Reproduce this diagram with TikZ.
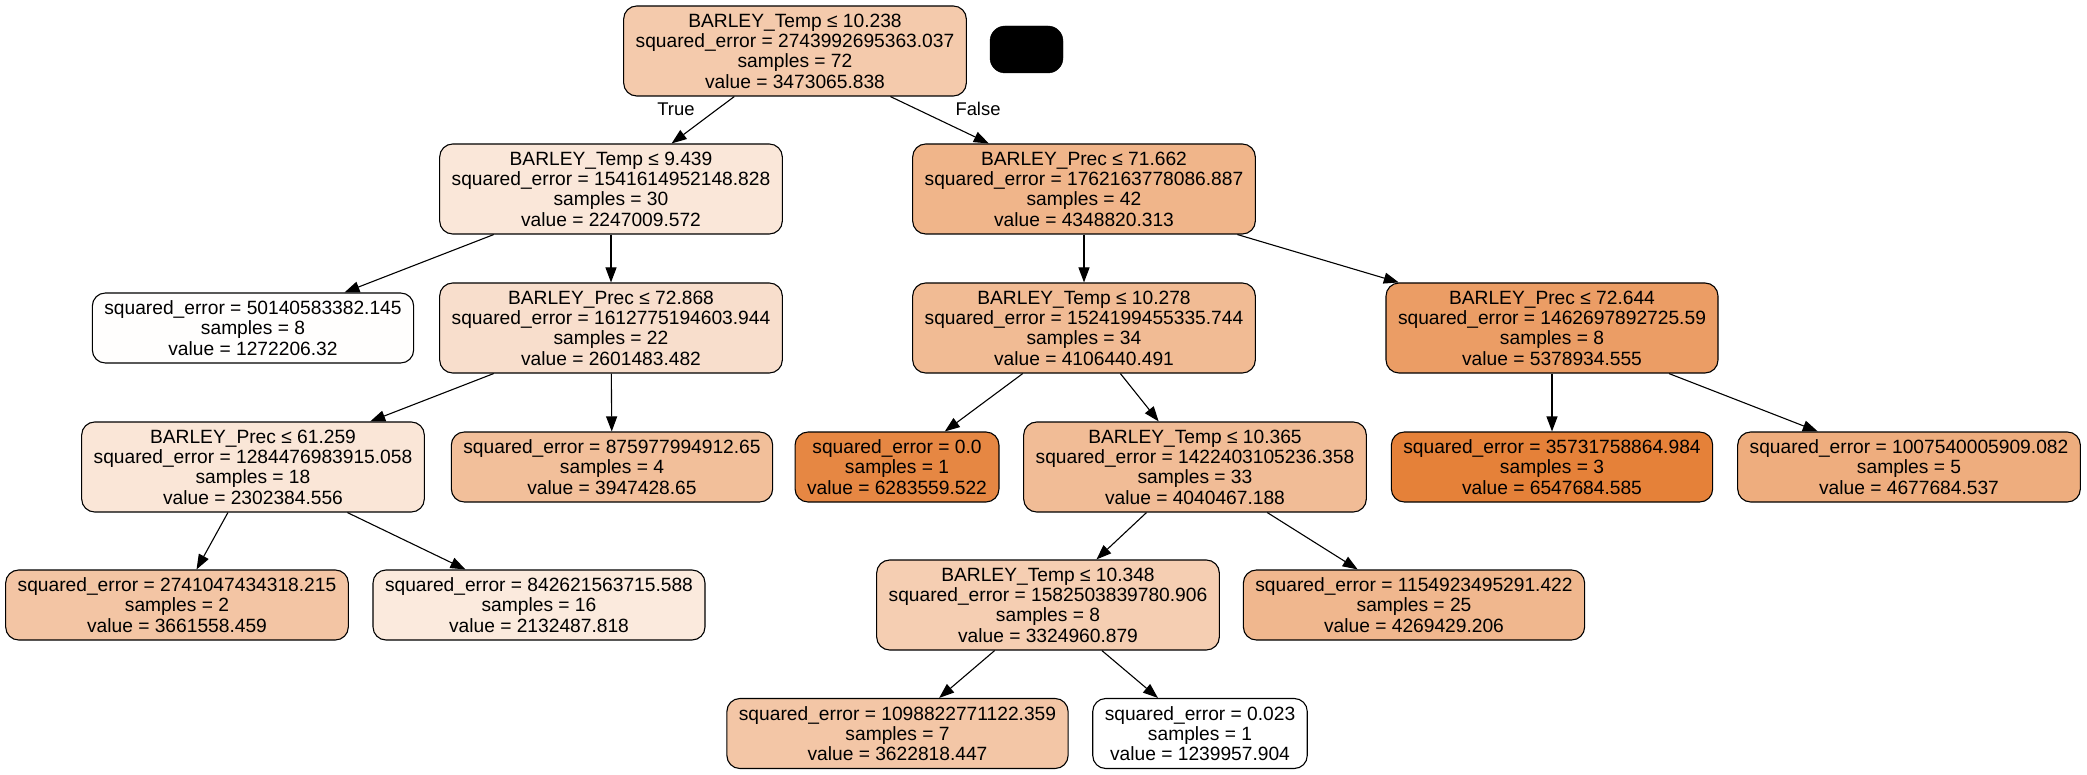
\documentclass[tikz,border=0pt]{standalone}
\usepackage{fontspec}
\setmainfont{Liberation Sans}
\usetikzlibrary{arrows.meta}
\definecolor{dtor}{RGB}{229,129,57}
\tikzset{
  tbox/.style={draw=black, line width=1.1pt, rounded corners=13pt, align=center,
    inner xsep=12pt, inner ysep=2pt, font=\fontsize{19.2}{20.3}\selectfont},
  split/.style={tbox, minimum height=90pt, fill=dtor!#1!white},
  leaf/.style={tbox, minimum height=70pt, fill=dtor!#1!white},
  edge/.style={line width=1.1pt, -{Triangle[length=15pt,width=11pt]}},
  elabel/.style={font=\fontsize{18.4}{20}\selectfont}
}
\begin{document}
\begin{tikzpicture}[x=1pt,y=-1pt]
\useasboundingbox (0,0) rectangle (2087,775);
\node[split=42] (root) at (795,51) {BARLEY\_Temp ≤ 10.238\\squared\_error = 2743992695363.037\\samples = 72\\value = 3473065.838};
\node[draw=black, fill=black, rounded corners=15pt, minimum width=73pt, minimum height=47pt, inner sep=0pt] (legend) at (1026.5,49.5) {};
\node[split=19] (A1) at (611,189) {BARLEY\_Temp ≤ 9.439\\squared\_error = 1541614952148.828\\samples = 30\\value = 2247009.572};
\node[split=59] (B1) at (1084,189) {BARLEY\_Prec ≤ 71.662\\squared\_error = 1762163778086.887\\samples = 42\\value = 4348820.313};
\node[leaf=1] (L1) at (253,328) {squared\_error = 50140583382.145\\samples = 8\\value = 1272206.32};
\node[split=26] (A2) at (611,328) {BARLEY\_Prec ≤ 72.868\\squared\_error = 1612775194603.944\\samples = 22\\value = 2601483.482};
\node[split=54] (B2) at (1084,328) {BARLEY\_Temp ≤ 10.278\\squared\_error = 1524199455335.744\\samples = 34\\value = 4106440.491};
\node[split=78] (B3) at (1552,328) {BARLEY\_Prec ≤ 72.644\\squared\_error = 1462697892725.59\\samples = 8\\value = 5378934.555};
\node[split=20] (A3) at (253,467) {BARLEY\_Prec ≤ 61.259\\squared\_error = 1284476983915.058\\samples = 18\\value = 2302384.556};
\node[leaf=51] (A2R) at (612,467) {squared\_error = 875977994912.65\\samples = 4\\value = 3947428.65};
\node[leaf=95] (B2L) at (897,467) {squared\_error = 0.0\\samples = 1\\value = 6283559.522};
\node[split=53] (B2R) at (1195,467) {BARLEY\_Temp ≤ 10.365\\squared\_error = 1422403105236.358\\samples = 33\\value = 4040467.188};
\node[leaf=100] (B3L) at (1552,467) {squared\_error = 35731758864.984\\samples = 3\\value = 6547684.585};
\node[leaf=65] (B3R) at (1909,467) {squared\_error = 1007540005909.082\\samples = 5\\value = 4677684.537};
\node[leaf=46] (A3L) at (177,605) {squared\_error = 2741047434318.215\\samples = 2\\value = 3661558.459};
\node[leaf=17] (A3R) at (539,605) {squared\_error = 842621563715.588\\samples = 16\\value = 2132487.818};
\node[split=39] (B4) at (1048,605) {BARLEY\_Temp ≤ 10.348\\squared\_error = 1582503839780.906\\samples = 8\\value = 3324960.879};
\node[leaf=57] (B4R) at (1414,605) {squared\_error = 1154923495291.422\\samples = 25\\value = 4269429.206};
\node[leaf=45] (B5L) at (897.5,733.5) {squared\_error = 1098822771122.359\\samples = 7\\value = 3622818.447};
\node[leaf=0] (B5R) at (1200,733.5) {squared\_error = 0.023\\samples = 1\\value = 1239957.904};
\draw[edge] (root) -- (A1);
\draw[edge] (root) -- (B1);
\draw[edge] (A1) -- (L1);
\draw[edge] (A1) -- (A2);
\draw[edge] (A2) -- (A3);
\draw[edge] (A2) -- (A2R);
\draw[edge] (A3) -- (A3L);
\draw[edge] (A3) -- (A3R);
\draw[edge] (B1) -- (B2);
\draw[edge] (B1) -- (B3);
\draw[edge] (B2) -- (B2L);
\draw[edge] (B2) -- (B2R);
\draw[edge] (B3) -- (B3L);
\draw[edge] (B3) -- (B3R);
\draw[edge] (B2R) -- (B4);
\draw[edge] (B2R) -- (B4R);
\draw[edge] (B4) -- (B5L);
\draw[edge] (B4) -- (B5R);
\node[elabel] (tlabel) at (676,109) {True};
\node[elabel] (flabel) at (978,109) {False};
\end{tikzpicture}
\end{document}
